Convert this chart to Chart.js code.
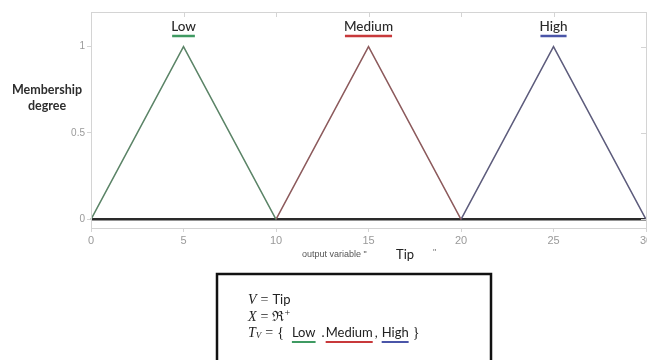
<!DOCTYPE html>
<html>
<head>
<meta charset="utf-8">
<script src="https://cdn.jsdelivr.net/npm/chart.js@4"></script>
<style>
  html, body { margin: 0; padding: 0; background: #fff; }
  #wrap { width: 647px; height: 360px; position: relative; overflow: hidden; }
</style>
</head>
<body>
<div id="wrap"><canvas id="mf" width="647" height="360"></canvas></div>
<script>
// membership functions of output variable "Tip"
var terms = ['Low', 'Medium', 'High'];
var lowX = [0, 5, 10];
var lowY = [0, 1, 0];
var mediumX = [10, 15, 20];
var mediumY = [0, 1, 0];
var highX = [20, 25, 30];
var highY = [0, 1, 0];
var baseX = [0, 30];
var baseY = [0, 0];
var xTicks = [0, 5, 10, 15, 20, 25, 30];
var yTicks = [0, 0.5, 1];

var lineColors = ['#5b8467', '#8c5a5c', '#5d5c7c'];
var underColors = ['#3f9a62', '#c8393b', '#4a55a8'];

var toPoints = function(xs, ys) {
  return xs.map(function(x, i) { return {x: x, y: ys[i]}; });
};

var textFont = "Lato, 'Open Sans', sans-serif";

var decorations = {
  id: 'decorations',
  afterDraw: function(chart) {
    var ctx = chart.ctx;
    var a = chart.chartArea;
    var xs = chart.scales.x;
    var ys = chart.scales.y;
    ctx.save();

    // light frame around plot
    ctx.strokeStyle = '#d4d4d4';
    ctx.lineWidth = 1;
    ctx.strokeRect(a.left + 0.5, a.top + 0.5, a.right - a.left, a.bottom - a.top);

    // inward ticks on top and right
    ctx.beginPath();
    xTicks.forEach(function(v) {
      var px = Math.round(xs.getPixelForValue(v)) + 0.5;
      ctx.moveTo(px, a.top); ctx.lineTo(px, a.top + 5);
    });
    yTicks.forEach(function(v) {
      var py = Math.round(ys.getPixelForValue(v)) + 0.5;
      ctx.moveTo(a.right, py); ctx.lineTo(a.right - 5, py);
    });
    ctx.stroke();

    // term names with coloured underline
    var peaks = [lowX[1], mediumX[1], highX[1]];
    ctx.font = '500 13.5px ' + textFont;
    ctx.textAlign = 'center';
    ctx.textBaseline = 'middle';
    terms.forEach(function(t, i) {
      var px = xs.getPixelForValue(peaks[i]);
      ctx.fillStyle = '#2a2a2a';
      ctx.fillText(t, px, 27);
      var w = ctx.measureText(t).width;
      ctx.strokeStyle = underColors[i];
      ctx.lineWidth = 2.5;
      ctx.beginPath();
      ctx.moveTo(px - w / 2 + 1, 36);
      ctx.lineTo(px + w / 2 - 1, 36);
      ctx.stroke();
    });

    // y axis label
    ctx.fillStyle = '#2e2e2e';
    ctx.font = 'bold 12.5px ' + textFont;
    ctx.fillText('Membership', 47, 90);
    ctx.fillText('degree', 47, 106);

    // x axis label
    ctx.textAlign = 'left';
    ctx.fillStyle = '#555';
    ctx.font = '9px Arial, sans-serif';
    ctx.fillText('output variable "', 302, 255);
    ctx.fillStyle = '#222';
    ctx.font = '13px ' + textFont;
    ctx.fillText('Tip', 396, 255);
    ctx.fillStyle = '#777';
    ctx.font = '9px Arial, sans-serif';
    ctx.fillText('"', 433, 253);

    // definition box
    ctx.strokeStyle = '#111';
    ctx.lineWidth = 2.5;
    ctx.strokeRect(217, 274, 274, 100);

    var run = function(parts, x, y) {
      parts.forEach(function(p) {
        ctx.font = p.font;
        ctx.fillStyle = p.color || '#222';
        ctx.fillText(p.text, x, y + (p.dy || 0));
        var w = ctx.measureText(p.text).width;
        if (p.under) {
          ctx.strokeStyle = p.under;
          ctx.lineWidth = 2;
          ctx.beginPath();
          ctx.moveTo(x, y + 9);
          ctx.lineTo(x + w, y + 9);
          ctx.stroke();
        }
        x += w + (p.gap || 0);
      });
    };
    var it = "italic 14px 'Liberation Serif', serif";
    var rm = "14px 'Liberation Serif', serif";
    var sf = '13px ' + textFont;
    run([{text: 'V', font: it, gap: 4}, {text: '=', font: rm, gap: 4}, {text: 'Tip', font: sf}], 248, 300);
    run([{text: 'X', font: it, gap: 4}, {text: '=', font: rm, gap: 4}, {text: '\u211C', font: rm}, {text: '+', font: "10px 'Liberation Serif', serif", dy: -4}], 248, 317);
    run([{text: 'T', font: it}, {text: 'V', font: "italic 9px 'Liberation Serif', serif", gap: 4, dy: 3},
         {text: '=', font: rm, gap: 4}, {text: '{', font: rm, gap: 8},
         {text: 'Low', font: sf, under: underColors[0], gap: 6},
         {text: '.', font: sf, gap: 1},
         {text: 'Medium', font: sf, under: underColors[1], gap: 2},
         {text: ',', font: sf, gap: 4},
         {text: 'High', font: sf, under: underColors[2], gap: 4},
         {text: '}', font: rm}], 248, 333);

    ctx.restore();
  }
};

new Chart(document.getElementById('mf'), {
  type: 'scatter',
  data: {
    datasets: [
      {label: terms[0], data: toPoints(lowX, lowY), borderColor: lineColors[0]},
      {label: terms[1], data: toPoints(mediumX, mediumY), borderColor: lineColors[1]},
      {label: terms[2], data: toPoints(highX, highY), borderColor: lineColors[2]},
      {label: 'base', data: toPoints(baseX, baseY), borderColor: '#2a2a2a', borderWidth: 2.5}
    ]
  },
  options: {
    responsive: false,
    animation: false,
    showLine: true,
    clip: false,
    elements: {
      point: {radius: 0},
      line: {borderWidth: 1.5, tension: 0}
    },
    layout: {padding: {top: 12, right: 1, left: 0, bottom: 0}},
    plugins: {legend: {display: false}, tooltip: {enabled: false}},
    scales: {
      x: {
        type: 'linear', min: 0, max: 30,
        afterBuildTicks: function(s) { s.ticks = xTicks.map(function(v) { return {value: v}; }); },
        afterFit: function(s) { s.height = 132; s.paddingLeft = 0; s.paddingRight = 0; },
        grid: {drawOnChartArea: false, drawTicks: true, tickLength: 4, color: '#d4d4d4'},
        border: {color: '#d4d4d4'},
        ticks: {color: '#9a9a9a', font: {size: 11, family: 'Arial'}, padding: 2, maxRotation: 0}
      },
      y: {
        min: -0.05, max: 1.2,
        afterBuildTicks: function(s) { s.ticks = yTicks.map(function(v) { return {value: v}; }); },
        afterFit: function(s) { s.width = 91; },
        grid: {drawOnChartArea: false, drawTicks: true, tickLength: 4, color: '#d4d4d4'},
        border: {color: '#d4d4d4'},
        ticks: {color: '#9a9a9a', font: {size: 10, family: 'Arial'}, padding: 2,
                callback: function(v) { return String(v); }}
      }
    }
  },
  plugins: [decorations]
});
</script>
</body>
</html>
